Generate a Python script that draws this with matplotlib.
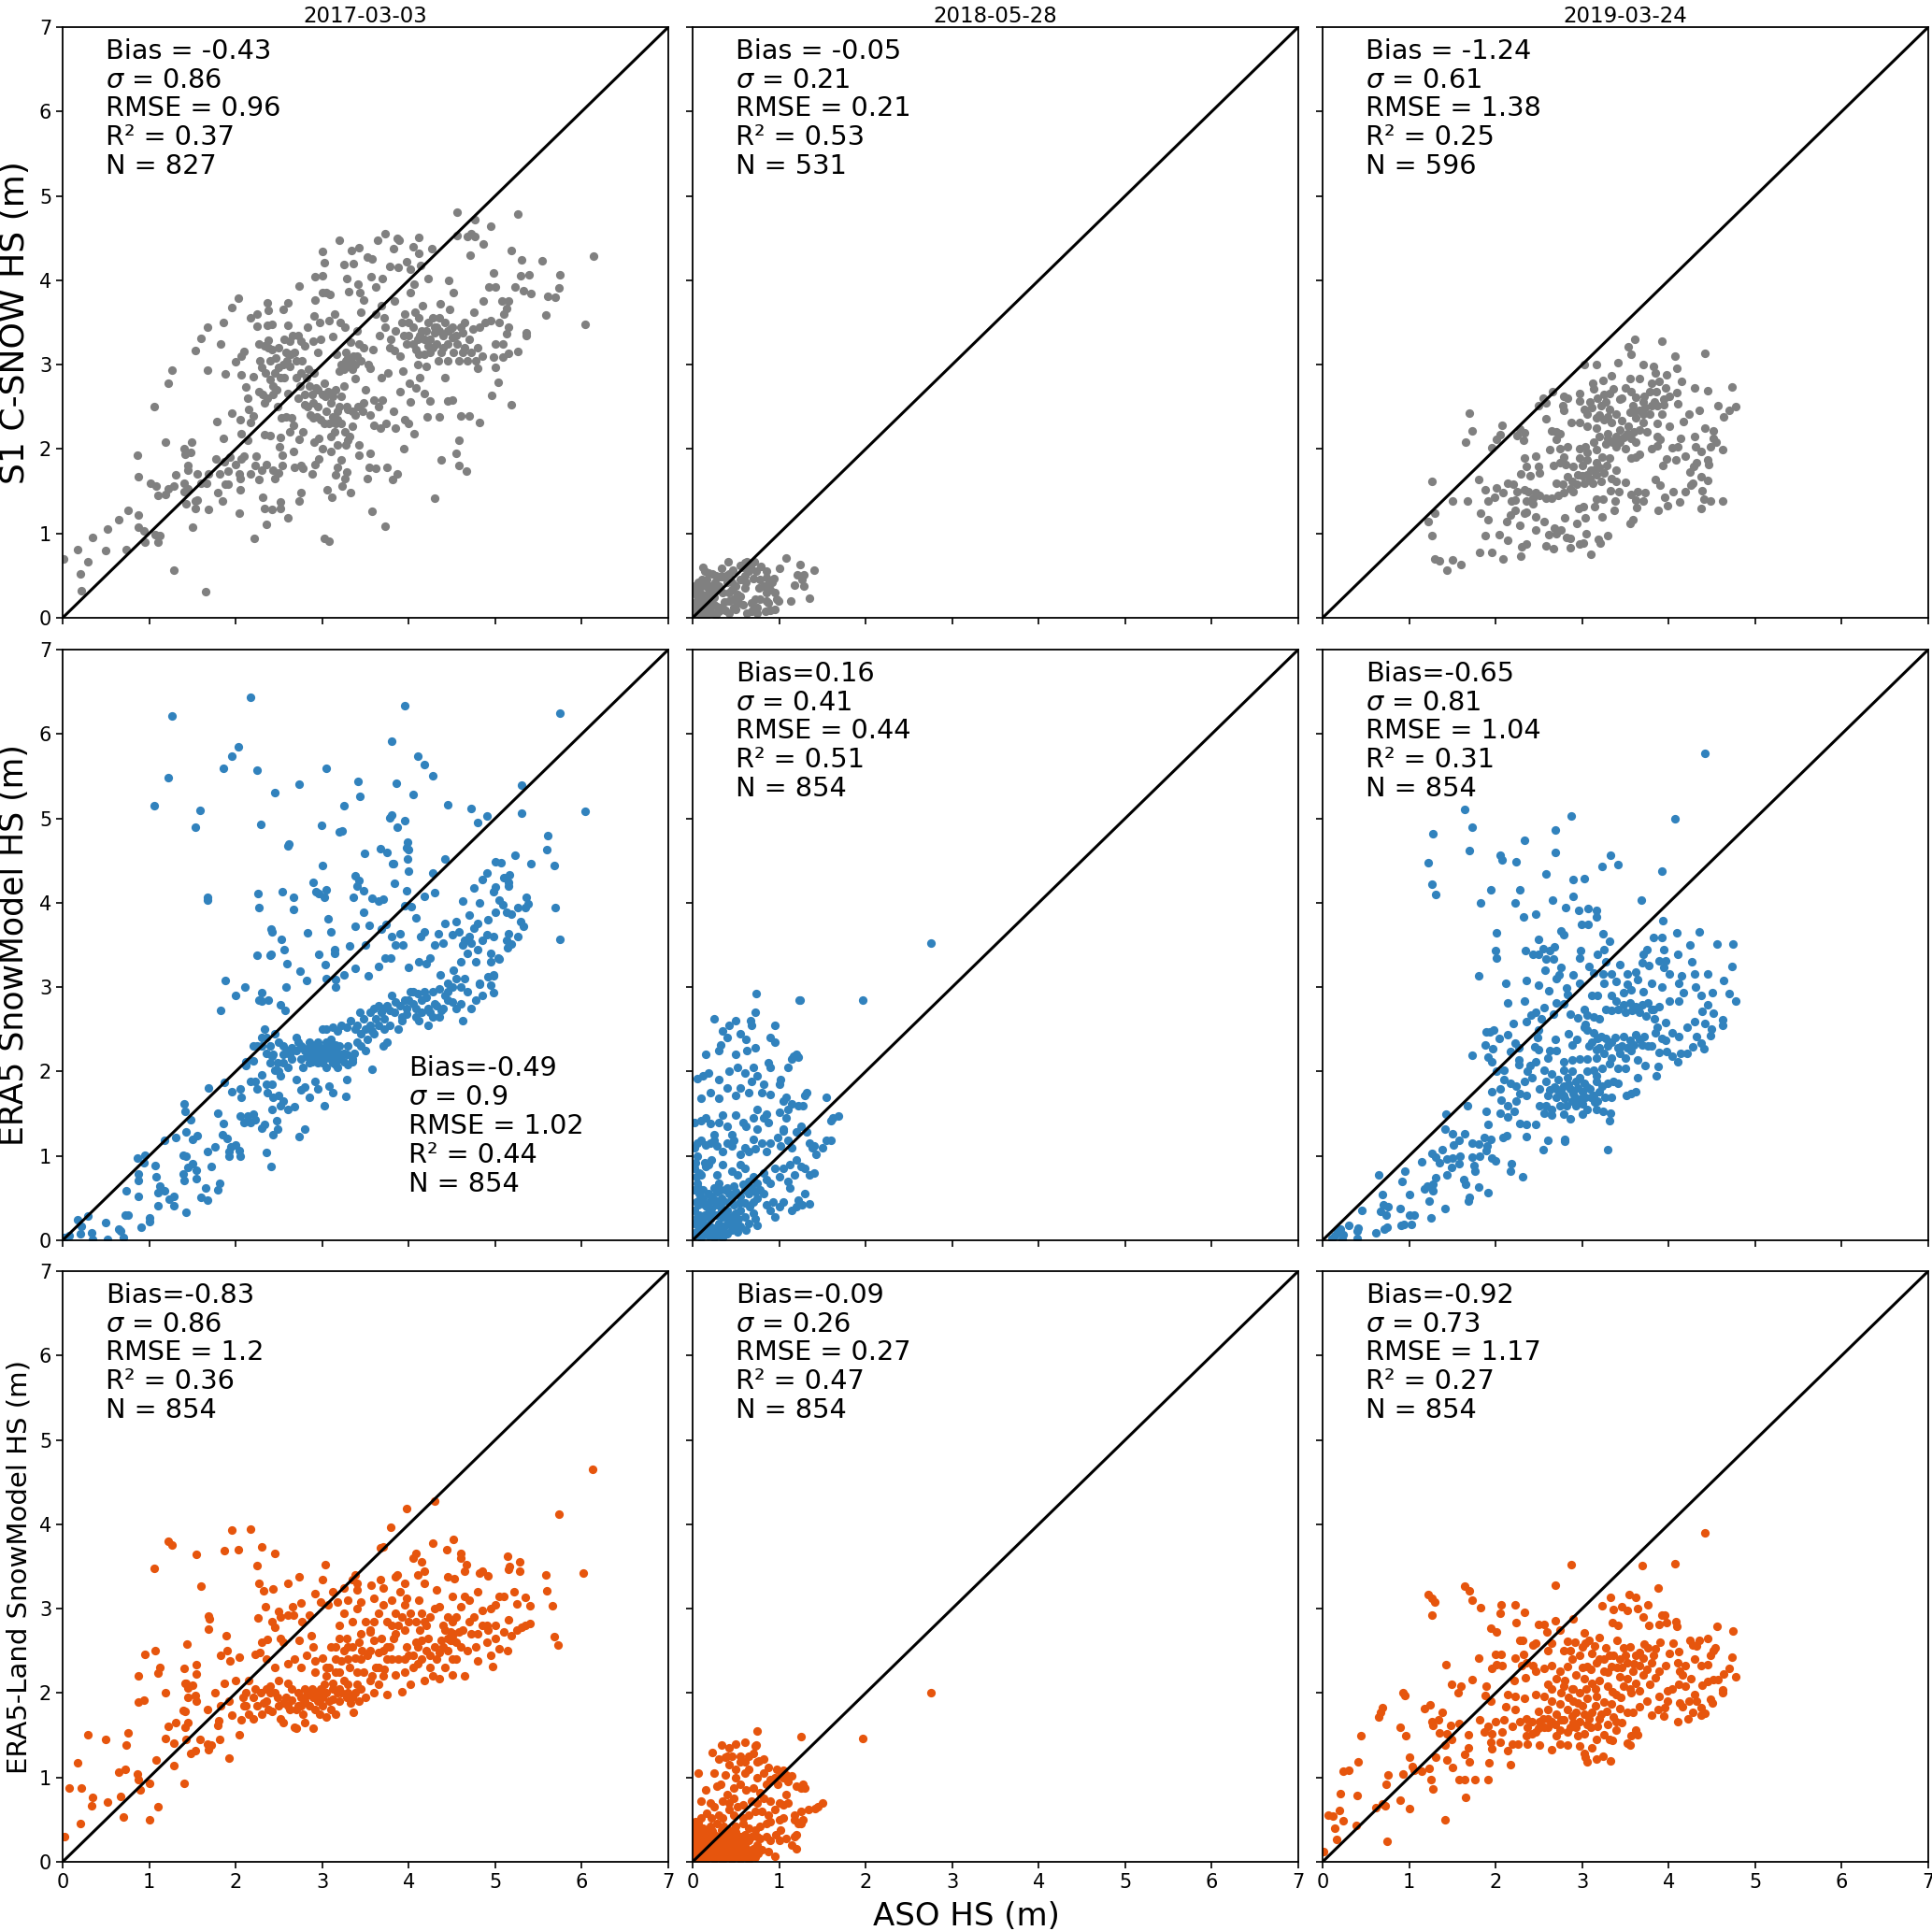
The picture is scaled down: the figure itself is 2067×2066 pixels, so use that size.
# recreate the 3x3 snow depth comparison scatter figure
import matplotlib
matplotlib.use("Agg")
import matplotlib.pyplot as plt

dates = ['2017-03-03', '2018-05-28', '2019-03-24']
row_labels = ['S1 C-SNOW HS (m)', 'ERA5 SnowModel HS (m)', 'ERA5-Land SnowModel HS (m)']
ticks = [0, 1, 2, 3, 4, 5, 6, 7]

# points: (ASO HS, model HS)
s1_2017 = [(0.01,0.70),(0.17,0.81),(0.21,0.52),(0.22,0.32),(0.29,0.66),(0.35,0.95),(0.50,0.80),(0.52,1.05),(0.65,1.16),(0.73,0.81),(0.76,1.27),(0.87,1.07),(0.87,1.22),(0.94,1.03),(0.95,0.90),(1.07,0.99),(1.10,0.90),(1.12,0.97),(1.29,0.57),(1.65,0.31),(1.50,1.07),
(0.86,1.93),(0.88,1.67),(1.02,1.59),(1.08,1.56),(1.10,1.45),(1.19,1.46),(1.22,1.53),(1.29,1.56),(1.31,1.70),(1.19,2.08),(1.06,2.50),(1.22,2.78),(1.26,2.93),(1.40,1.60),(1.40,1.50),(1.45,1.53),(1.43,1.35),(1.45,1.75),(1.45,1.81),(1.40,2.00),(1.41,1.94),(1.48,1.96),(1.49,2.08),(1.53,1.30),(1.53,1.38),(1.56,1.40),(1.56,1.71),(1.60,1.60),(1.66,1.60),(1.68,1.71),(1.69,1.28),(1.53,3.17),(1.60,3.31),(1.67,3.45),(1.67,2.94),
(1.77,1.88),(1.79,1.48),(1.81,1.71),(1.85,1.38),(1.83,3.25),(1.86,3.50),(1.88,2.89),(1.78,2.33),(1.86,2.13),(1.87,1.85),(1.88,1.58),(1.91,1.74),(1.93,1.90),(1.91,1.58),(1.95,2.43),(1.95,3.68),(2.00,1.82),(2.00,3.04),(2.03,3.79),(2.04,1.24),(2.04,1.71),(2.05,1.65),(2.05,1.52),(2.05,2.35),(2.06,2.18),(2.06,1.88),(2.06,3.10),(2.06,2.88),(2.10,1.92),(2.10,3.16),(2.12,2.74),(2.14,2.60),(2.14,2.10),(2.15,2.47),(2.17,1.71),(2.17,3.55),(2.17,2.32),(2.20,2.39),(2.20,2.86),(2.21,0.94),(2.23,1.80),(2.24,1.92),(2.25,3.60),(2.25,3.46),(2.27,1.64),(2.27,3.24),(2.28,3.05),(2.27,2.68),(2.30,2.97),(2.30,1.75),(2.31,2.65),(2.31,1.43),(2.33,3.22),(2.33,2.17),(2.33,2.55),(2.33,1.30),(2.35,1.82),(2.36,1.11),(2.37,2.60),(2.37,3.47),(2.37,3.73),(2.38,3.64),(2.38,3.29),(2.38,3.20),(2.40,2.82),(2.40,2.16),(2.42,3.48),(2.42,3.18),(2.42,1.28),(2.43,2.65),(2.43,1.75),(2.43,2.75),(2.45,1.65),(2.46,3.08),(2.47,2.70),(2.48,2.50),(2.50,2.97),(2.50,1.72),(2.51,2.03),(2.52,2.85),(2.52,2.14),(2.52,1.30),(2.52,1.37),(2.53,2.37),(2.54,1.93),(2.54,1.80),(2.55,3.65),(2.56,2.85),(2.56,3.30),(2.58,2.38),(2.58,3.15),(2.59,3.05),(2.60,3.47),(2.60,1.18),(2.60,3.73),(2.60,2.66),(2.62,2.98),(2.63,2.20),(2.64,3.12),(2.65,2.37),(2.66,3.35),(2.67,2.28),(2.67,1.97),(2.68,3.15),(2.68,1.78),(2.70,3.05),(2.72,3.34),(2.72,2.60),(2.73,1.39),(2.73,2.12),(2.73,3.93),(2.75,3.28),(2.75,1.80),(2.76,1.48),(2.76,2.90),(2.77,3.05),(2.78,2.20),(2.78,1.77),(2.80,2.52),(2.80,3.22),(2.82,2.85),(2.83,2.50),(2.83,3.45),(2.85,2.75),(2.88,1.71),(2.88,2.65),(2.89,3.28),(2.90,2.37),(2.91,3.58),(2.91,2.90),(2.91,2.08),(2.92,1.82),(2.92,4.04),(2.92,3.77),(2.93,2.72),(2.94,2.38),(2.95,3.15),(2.95,2.50),(2.96,2.13),(2.96,1.88),(2.97,3.50),(2.98,3.30),(3.00,4.05),(3.00,2.00),(3.00,3.85),(3.00,4.34),(3.02,4.21),(3.02,2.78),(3.03,2.30),(3.03,0.94),(3.05,3.85),(3.06,1.52),(3.07,2.68),(3.08,0.91),(3.08,3.52),(3.09,3.83),(3.10,2.55),(3.10,2.15),(3.10,1.97),(3.11,1.43),(3.12,3.33),(3.14,3.60),(3.15,2.30),(3.15,1.70),(3.15,2.70),(3.16,3.12),(3.18,2.05),(3.18,1.78),(3.20,2.92),(3.20,4.47),(3.20,2.50),(3.21,3.50),(3.22,1.87),(3.23,1.56),(3.25,2.75),(3.25,4.19),(3.26,1.65),(3.26,3.45),(3.27,3.05),(3.27,2.05),(3.28,1.73),(3.28,4.02),(3.30,2.47),(3.31,3.87),(3.32,2.15),(3.33,3.00),(3.33,3.27),(3.33,1.48),(3.34,4.35),(3.35,2.27),(3.36,3.10),(3.36,4.20),(3.38,2.83),(3.38,2.40),(3.40,3.40),(3.41,3.95),(3.41,2.50),(3.42,4.39),(3.42,2.05),(3.42,1.93),(3.44,3.85),(3.45,3.62),(3.47,2.45),(3.48,3.77),(3.48,3.20),(3.50,2.70),(3.52,1.65),(3.52,4.28),(3.53,3.00),(3.55,1.95),(3.54,1.78),(3.55,2.96),(3.56,4.04),(3.58,4.25),(3.58,1.26),(3.59,3.18),(3.60,2.58),(3.62,3.92),(3.62,3.60),(3.62,1.77),(3.64,4.47),(3.65,2.50),(3.67,2.25),(3.68,3.70),(3.68,2.85),(3.69,2.58),(3.69,4.02),(3.73,1.09),(3.73,4.55),(3.73,3.45),(3.74,2.30),(3.75,1.78),(3.76,2.90),(3.78,4.17),(3.79,3.30),(3.81,1.64),(3.82,4.38),(3.82,2.45),(3.83,3.17),(3.84,3.75),(3.85,2.25),(3.87,4.50),(3.87,1.71),(3.88,4.15),(3.89,4.47),(3.90,2.68),(3.92,3.50),(3.93,2.92),(3.94,2.00),(3.94,3.35),(3.95,2.35),(3.97,4.22),(3.97,3.25),(4.00,2.30),(4.01,2.78),(4.02,2.56),(4.02,3.85),(4.02,4.13),(4.05,4.40),(4.06,3.95),(4.06,2.18),(4.07,3.62),(4.08,2.72),(4.10,3.00),(4.12,4.32),(4.12,4.51),(4.13,3.35),(4.13,2.85),(4.14,4.18),(4.16,3.70),(4.18,2.66),(4.18,3.12),(4.20,2.98),(4.21,2.38),(4.22,4.02),(4.25,2.57),(4.27,4.38),(4.28,3.55),(4.30,1.42),(4.30,3.45),(4.32,3.25),(4.34,3.05),(4.35,2.38),(4.36,3.72),(4.37,1.87),(4.40,3.35),(4.42,2.85),(4.45,2.57),(4.46,4.00),(4.47,3.65),(4.50,2.58),(4.52,3.85),(4.55,1.95),(4.58,1.81),(4.58,2.10),(4.60,2.39),(4.62,3.38),(4.65,3.20),(4.67,1.74),(4.68,4.52),(4.70,2.39),(4.72,4.55),(4.74,3.42),(4.78,3.05),(4.80,2.96),(4.82,2.31),(4.86,3.75),(4.88,3.50),
(5.19,4.35),(5.26,4.78),(5.30,4.24),(5.29,4.05),(5.39,4.07),(5.23,3.92),(5.33,3.88),(5.41,3.84),(5.54,4.23),(5.61,3.81),(5.59,3.59),(5.69,3.80),(5.74,3.91),(5.75,4.07),(6.04,3.48),(6.14,4.29),(5.18,2.53),(5.36,3.38),(5.36,3.34),(5.26,3.16),(5.15,3.14),(5.09,3.09),(5.00,2.97),(5.03,2.79),(4.96,2.64),(5.15,3.76),(5.08,3.76),(5.13,3.67),(5.10,3.60),(5.05,3.50),(5.15,3.45),(5.13,3.37),(5.09,3.24),(5.00,3.24),(4.98,3.09),(4.95,3.52),(4.98,4.09),(4.93,3.92),(5.00,3.92),(4.95,4.64),(4.86,4.43),(4.76,4.52),(4.76,4.72),(4.56,4.81),(4.56,4.53),(4.71,4.30),
(4.60,3.45),(4.55,3.35),(4.50,3.32),(4.48,3.42),(4.42,3.50),(4.35,3.40),(4.30,3.38),(4.25,3.30),(4.22,3.50),(4.10,3.30),(4.05,3.45),(4.00,3.50),(3.95,3.60),(3.40,3.10),(3.33,3.05),(3.30,2.98),(3.27,3.15),(3.22,3.00),(4.65,3.50),(4.70,3.30),(4.75,3.62),(4.80,3.20),(4.85,3.10),(4.58,3.05),(4.52,3.15),(4.45,3.05),(4.38,3.15),(4.28,3.20),(4.22,3.22),(4.15,3.40),(4.12,3.55),(4.08,3.18),(3.45,3.05),(3.42,3.25),(3.38,3.00),(3.35,2.95),(3.30,3.08),(3.25,2.95),(3.28,2.50),(3.22,2.62),(3.18,2.45),(3.12,2.38),(3.05,2.45),(3.00,2.65),(2.95,2.70),(2.98,2.35),
(2.34,2.90),(2.40,3.05),(2.45,2.90),(2.50,3.20),(2.55,3.00),(2.62,3.28),(2.70,2.85),(2.74,2.75),(2.80,2.65),(2.84,2.95),(2.86,2.40),(2.90,2.55),(3.04,2.62),(3.12,2.62),(3.18,2.35),(3.08,2.30),(3.14,2.20),(3.22,2.30),(3.26,2.20),(3.30,2.10),(3.35,2.45),(3.48,2.55),(3.55,2.40),(3.60,2.28),(3.66,3.35),(3.72,3.55),(3.78,3.20),(3.85,3.40),(3.90,3.10),(4.00,3.35),(4.05,3.25),(4.12,3.12),(4.18,3.30),(4.25,3.15),(4.32,3.45),(4.40,3.20),(4.45,3.40),(4.50,3.45),(4.56,3.25),(4.62,3.15),(4.68,3.05),(4.72,3.15),(4.82,3.45),(4.20,3.40),(4.35,3.55),(4.45,3.25)]

s1_2018 = [(0.02,0.05),(0.06,0.12),(0.10,0.02),(0.13,0.08),(0.16,0.03),(0.19,0.10),(0.23,0.05),(0.27,0.03),(0.30,0.08),(0.02,0.18),(0.05,0.25),(0.08,0.20),(0.12,0.17),(0.17,0.14),(0.22,0.15),(0.02,0.30),(0.05,0.35),(0.09,0.30),(0.13,0.27),(0.18,0.30),(0.22,0.28),(0.25,0.33),(0.02,0.38),(0.06,0.42),(0.10,0.38),(0.15,0.38),(0.08,0.10),(0.14,0.22),(0.20,0.22),(0.01,0.11),(0.11,0.45),(0.25,0.15),(0.28,0.13),(0.04,0.15),(0.10,0.13),(0.15,0.09),(0.25,0.24),(0.04,0.07),(0.20,0.38),(0.28,0.38),
(0.12,0.60),(0.14,0.55),(0.18,0.53),(0.23,0.52),(0.27,0.50),(0.31,0.49),(0.35,0.49),(0.39,0.50),(0.42,0.52),(0.46,0.56),(0.33,0.59),(0.41,0.66),(0.60,0.65),(0.63,0.67),(0.71,0.67),(0.55,0.62),(0.67,0.60),(0.79,0.61),(0.60,0.50),(0.55,0.45),(0.62,0.42),(0.70,0.47),(0.78,0.45),(0.85,0.48),(0.87,0.40),(0.82,0.38),(0.77,0.35),(0.85,0.30),(0.90,0.33),(0.95,0.30),(0.60,0.35),(0.50,0.38),(0.42,0.30),(0.35,0.30),(0.45,0.33),(0.52,0.28),(0.48,0.22),(0.42,0.20),(0.37,0.19),(0.55,0.25),(0.53,0.18),(0.47,0.12),(0.50,0.10),(0.58,0.15),(0.70,0.10),(0.72,0.22),(0.78,0.22),(0.75,0.12),(0.68,0.18),(0.85,0.20),(0.88,0.18),(0.90,0.09),(0.84,0.08),(0.95,0.10),(0.97,0.22),(0.99,0.20),(1.08,0.71),(1.24,0.63),(1.40,0.56),(1.00,0.59),(1.21,0.51),(1.29,0.51),(0.94,0.47),(1.18,0.39),(1.29,0.38),(1.13,0.20),(1.35,0.23),(1.26,0.45),(0.30,0.38),(0.65,0.55),(0.73,0.55),(0.58,0.60),(0.45,0.42),(0.40,0.42),(0.38,0.09),(0.42,0.06),(0.07,0.28),(0.16,0.45),(0.26,0.42),(0.33,0.12),(0.63,0.05),(0.68,0.08),(0.75,0.05),(0.85,0.55),(0.92,0.42)]

s1_2019 = [(1.22,1.14),(1.26,1.62),(1.30,1.24),(1.26,0.98),(1.30,0.70),(1.35,0.68),(1.44,0.57),(1.50,0.69),(1.60,0.63),(1.50,1.39),(1.67,1.38),(1.65,2.08),(1.70,2.43),(1.73,2.21),(1.80,1.64),(1.83,1.24),(1.81,0.78),(1.88,1.52),(1.91,1.16),(1.88,0.98),(1.91,1.38),(1.95,0.78),(1.95,2.02),(1.99,1.43),(2.01,2.12),(2.05,2.17),(2.07,2.28),(2.01,1.54),(2.04,0.99),(2.08,1.48),(2.09,0.70),(2.13,1.14),(2.14,0.92),(2.14,1.59),(2.20,1.58),(2.17,1.22),(2.18,1.38),(2.22,1.27),(2.23,1.40),(2.25,1.50),(2.25,2.16),(2.28,2.24),(2.33,2.19),(2.32,2.10),(2.28,1.10),(2.29,0.73),(2.30,0.84),(2.35,0.88),(2.29,1.71),(2.33,1.89),(2.40,1.68),(2.36,1.79),(2.33,1.24),(2.36,1.25),(2.35,1.38),(2.33,1.52),(2.38,1.49),(2.43,1.35),(2.43,1.42),(2.46,1.20),(2.46,1.04),(2.49,2.51),(2.55,2.60),(2.58,2.55),(2.58,2.36),(2.66,2.68),(2.46,1.92),(2.49,1.79),(2.51,1.72),(2.56,1.14),(2.58,0.85),(2.61,0.99),(2.67,0.82),(2.68,1.06),(2.70,1.00),(2.76,1.04),(2.80,1.19),(2.82,0.95),(2.86,0.94),(2.86,0.83),(2.94,1.12),(2.97,0.87),(3.01,0.89),(3.05,1.00),(3.10,0.75),(3.04,1.19),(2.96,1.30),(3.01,1.32),(3.14,1.32),(3.23,1.20),(3.19,0.93),(3.21,0.89),(3.30,0.98),(3.37,1.27),(3.38,1.38),(3.24,1.41),(3.17,1.41),(3.33,1.51),(3.42,1.49),(3.56,1.46),(3.62,1.40),(3.63,1.31),(3.64,1.49),(3.71,1.38),(3.73,1.48),(3.55,1.12),(3.59,1.16),(3.88,1.27),(3.99,1.33),(3.95,1.43),(3.90,1.57),(3.85,1.64),(4.05,1.50),(4.19,1.50),(4.13,1.37),(4.26,1.57),(4.28,1.60),(4.39,1.51),(4.41,1.41),(4.38,1.30),(4.48,1.38),(4.62,1.38),(4.45,1.63),(4.38,1.67),(4.24,1.73),(4.29,1.79),(4.32,1.84),(4.46,1.82),(4.45,1.87),(4.62,1.99),(4.48,2.03),(4.52,2.13),(4.55,2.08),(4.52,2.22),(4.38,1.97),(4.30,2.15),(4.31,2.03),(4.19,1.92),(4.08,1.87),(3.98,1.88),(3.93,1.81),(4.04,2.02),(4.14,2.13),(4.10,2.03),(3.87,2.04),(3.80,2.00),(4.42,2.25),(4.17,2.33),(4.23,2.41),(4.35,2.46),(4.63,2.38),(4.70,2.46),(4.57,2.51),(4.73,2.74),(4.77,2.50),(4.30,2.73),(4.45,2.69),(4.42,3.14),(4.07,3.10),(3.92,3.28),(3.61,3.30),(3.53,3.21),(3.57,3.12),(3.41,3.02),(3.16,3.00),(3.02,3.00),(3.70,3.00),(3.82,2.98),(4.09,2.96),(4.15,2.80),(3.98,2.88),(3.85,2.90),(4.09,2.67),(4.10,2.54),(2.79,2.63),(2.83,2.60),(2.78,2.51),(2.79,2.46),(2.97,2.66),(2.97,2.57),(2.65,2.22),(2.70,2.20),(2.74,2.18),(2.87,2.31),(2.97,2.32),(2.63,1.99),(2.70,2.11),(2.74,2.01),(2.83,2.03),(2.67,1.81),(2.79,1.91),(2.74,1.84),
(2.46,1.48),(2.51,1.45),(2.58,1.42),(2.65,1.42),(2.72,1.45),(2.79,1.48),(2.86,1.53),(2.94,1.58),(3.02,1.60),(3.09,1.65),(3.16,1.70),(3.22,1.62),(3.25,1.72),(3.13,1.75),(3.06,1.70),(2.95,1.70),(2.83,1.67),(2.70,1.60),(2.81,1.82),(2.90,1.79),(2.97,1.89),(3.06,1.87),(3.16,1.84),(3.23,1.91),(3.32,1.89),(3.39,1.75),(3.39,1.62),(3.50,1.61),(3.34,1.65),
(3.06,2.27),(3.16,2.37),(3.06,2.42),(3.02,2.47),(3.11,2.49),(3.09,2.56),(3.22,2.51),(3.27,2.56),(3.32,2.47),(3.39,2.42),(3.25,2.35),(3.34,2.32),(3.43,2.23),(3.20,2.15),(3.29,2.13),(3.39,2.15),(3.48,2.14),(3.57,2.13),(3.13,2.08),(3.04,2.03),(2.97,2.01),(3.06,1.96),(3.16,1.99),(3.27,2.06),(3.39,2.03),(3.50,2.01),(3.57,1.89),(3.62,1.91),(3.66,1.94),(3.53,2.27),(3.62,2.37),(3.55,2.44),(3.59,2.51),(3.66,2.46),(3.73,2.49),(3.80,2.51),(3.87,2.51),(3.94,2.59),(4.01,2.63),(3.92,2.42),(3.87,2.30),(3.71,2.32),(3.75,2.20),(3.87,2.15),(3.90,2.11),(4.01,2.27),(3.66,2.23),(3.62,2.08),(3.57,2.68),(3.62,2.61),(3.78,2.68),(3.80,2.78),(3.89,2.80),(3.66,2.83),(3.55,2.84),(3.34,2.87),(3.24,2.81),(3.12,2.78),(3.13,2.71),(3.25,2.65),(3.36,2.71),(3.43,2.59),(3.50,2.73),
(3.30,2.18),(3.35,2.08),(3.44,2.08),(3.52,2.18),(3.60,2.20),(3.20,2.40),(3.30,2.38),(3.46,2.34),(3.60,2.44),(3.70,2.42),(3.78,2.42),(3.84,2.56),(3.94,2.52),(3.70,2.56),(3.46,2.60),(3.32,2.66),(3.18,2.60),(3.16,2.25),(3.72,2.62),(3.86,2.68),(3.96,2.72),(2.90,1.50),(3.00,1.68),(3.10,1.75),(3.20,1.78),(3.28,1.80),(3.12,1.60),(3.00,1.80),(2.88,1.62),(2.78,1.58)]

era5_2017 = [(0.02,0.03),(0.08,0.05),(0.17,0.24),(0.22,0.17),(0.21,0.08),(0.29,0.29),(0.33,0.09),(0.35,0.01),(0.50,0.21),(0.52,0.01),(0.65,0.13),(0.67,0.11),(0.70,0.03),(0.72,0.30),(0.76,0.30),(0.73,0.59),(0.87,0.52),(0.87,0.71),(0.88,0.79),(0.86,0.97),(0.94,0.92),(0.95,1.01),(0.91,0.15),(1.00,0.22),(1.01,0.27),(1.07,0.89),(1.08,0.75),(1.10,0.57),(1.10,0.41),(1.12,0.64),(1.18,0.59),(1.29,0.41),(1.29,0.52),(1.23,0.49),(1.18,1.19),(1.31,1.22),(1.39,0.79),(1.40,0.71),(1.39,1.01),(1.40,1.62),(1.41,1.53),(1.43,0.33),(1.43,1.00),(1.43,1.28),(1.45,0.86),(1.48,1.43),(1.50,0.91),(1.50,1.20),(1.54,0.83),(1.55,0.73),(1.56,1.24),(1.60,0.51),(1.65,0.62),(1.67,0.48),(1.67,1.05),(1.69,1.81),(1.72,0.87),(1.76,1.11),(1.79,1.51),(1.79,0.60),(1.81,0.68),(1.85,1.25),(1.86,1.39),(1.87,1.87),(1.90,1.21),(1.92,1.00),(1.92,1.05),(1.94,1.11),(2.00,1.13),(2.04,1.06),(2.05,1.00),(1.96,1.76),(2.05,1.79),(2.06,1.70),(2.05,1.47),(2.10,1.40),(2.14,1.47),(2.17,1.40),(2.20,1.50),(2.23,1.43),(2.30,1.33),(2.33,1.37),(2.36,1.04),(2.41,0.87),(2.43,1.25),(2.47,1.42),(2.48,1.32),(2.12,2.12),(2.12,2.07),(2.20,2.13),(2.17,1.88),(2.22,1.88),(2.25,1.79),(2.30,1.96),(2.35,1.85),(2.37,1.75),(2.42,1.85),(2.42,1.55),(2.43,1.70),(2.50,1.72),(2.52,1.60),(2.52,1.95),(2.55,1.65),(2.60,1.55),(2.68,1.58),(2.73,1.23),(2.80,1.32),(2.70,1.90),(2.75,1.78),(2.80,1.82),(2.85,1.70),(2.92,1.88),(2.95,1.79),(3.02,1.60),(3.08,1.83),(3.12,1.75),(3.27,1.71),(3.28,1.90),(3.58,2.03),(2.27,2.85),(2.30,2.93),(2.33,2.50),(2.38,2.85),(2.43,2.20),(2.48,2.10),(2.55,2.20),(2.60,2.25),(2.35,2.40),(2.30,2.30),(2.40,2.30),(2.45,2.45),(2.50,2.35),(2.55,2.30),(2.65,2.15),(2.70,2.40),(2.75,2.15),(2.78,2.05),(2.85,2.10),(2.90,2.15),(2.95,2.22),(3.00,2.20),(3.05,2.25),(3.10,2.15),(3.15,2.08),(3.20,2.15),(3.25,2.22),(3.30,2.30),(2.85,2.35),(2.90,2.30),(2.95,2.35),(3.00,2.10),(3.05,2.35),(3.10,2.30),(3.15,2.25),(3.20,2.30),(2.92,2.25),(2.97,2.15),(3.02,2.28),(2.88,2.22),(3.08,2.22),(3.12,2.20),(3.18,2.18),(2.80,2.25),(2.75,2.30),(2.70,2.25),(3.35,2.15),(3.37,2.22),(3.45,2.30),(3.50,2.25),(3.40,2.35),(3.35,2.12),(3.00,2.50),(3.05,2.50),(3.12,2.52),(3.18,2.48),(3.22,2.55),(3.28,2.52),(3.33,2.60),(3.38,2.50),(3.43,2.70),(3.48,2.62),(3.50,2.50),(3.55,2.55),(3.58,2.48),(3.65,2.55),(3.70,2.30),(3.72,2.50),(3.75,2.35),(3.60,2.75),(3.65,2.78),(3.70,2.75),(3.75,2.78),(3.78,2.55),(3.83,2.70),(3.88,2.50),(3.92,2.65),(3.95,2.85),(3.98,2.75),(4.02,2.95),(4.05,2.80),(4.08,2.65),(4.10,2.92),(4.15,2.70),(4.20,2.88),(4.22,2.55),(4.25,2.70),(4.28,2.95),(4.30,2.80),(4.35,2.65),(4.38,2.72),(4.42,2.90),(4.45,2.85),(4.50,2.82),(4.55,2.75),(4.60,2.80),(4.62,2.60),(4.68,2.95),(4.72,2.75),(4.78,2.85),(4.82,3.05),(4.85,2.90),(4.92,3.12),(4.95,3.02),(4.98,3.13),(2.20,2.30),(1.83,2.72),(1.88,3.08),(2.00,2.90),(2.11,3.00),(2.30,2.83),(2.52,2.79),(2.57,2.73),(2.58,3.00),(2.53,3.57),(2.56,3.44),(2.59,3.28),(2.40,3.38),(2.41,3.39),(2.25,3.38),(2.26,4.11),(2.27,3.94),(2.41,3.69),(2.42,3.66),(2.54,4.13),(2.67,4.06),(2.67,3.92),(2.74,3.19),(2.82,3.08),(2.83,3.64),(2.89,4.24),(2.93,4.13),(2.96,4.11),(2.96,3.39),(3.00,4.44),(3.03,4.07),(3.04,3.27),(3.05,3.10),(3.05,4.15),(3.07,3.81),(3.10,3.66),(3.14,3.44),(3.14,3.40),(3.15,3.09),(3.15,3.00),(3.25,3.15),(3.32,3.49),(3.38,4.32),(3.36,4.07),(3.38,3.22),(3.38,3.72),(3.40,4.20),(3.42,4.26),(3.48,4.14),(3.48,3.89),(3.50,3.50),(3.53,3.13),(3.54,3.73),(3.58,4.05),(3.65,4.02),(3.70,4.04),(3.68,3.69),(3.74,3.74),(3.65,3.24),(3.73,3.34),(3.79,3.34),(3.80,3.60),(3.81,4.46),(3.84,4.23),(3.85,3.50),(3.90,3.63),(3.93,3.50),(3.95,3.97),(3.97,4.14),(4.00,4.63),(4.00,4.37),(4.00,3.23),(4.03,3.95),(4.08,3.82),(4.12,3.30),(4.14,3.60),(4.18,3.65),(4.18,4.08),(4.20,3.28),(4.25,3.35),(4.28,4.35),(4.30,4.12),(4.30,3.50),(4.34,3.63),(4.36,3.15),(4.40,3.52),(4.42,3.75),(4.45,3.05),(4.50,3.62),(4.52,3.20),(4.55,3.78),(4.58,3.65),(4.60,3.00),(4.62,4.02),(4.65,3.10),(4.68,3.40),(4.70,3.85),(4.72,3.52),(4.75,4.18),(4.78,3.30),(4.80,3.75),(4.82,4.00),(4.85,4.28),(4.90,4.35),(4.92,3.80),(4.95,3.30),(4.98,3.60),
(1.06,5.15),(1.22,5.48),(1.26,6.21),(1.53,4.90),(1.59,5.09),(1.67,4.03),(1.67,4.06),(1.86,5.59),(1.95,5.74),(2.03,5.85),(2.17,6.43),(2.25,5.57),(2.29,4.93),(2.45,5.30),(2.60,4.67),(2.61,4.70),(2.73,5.41),(2.99,4.92),(3.05,5.59),(3.20,4.84),(3.23,4.85),(3.25,5.15),(3.41,5.44),(3.43,5.26),(3.49,4.59),(3.67,4.64),(3.75,4.60),(3.78,5.01),(3.80,5.04),(3.80,5.92),(3.82,4.46),(3.86,5.42),(3.87,4.90),(3.95,6.33),(3.95,4.97),(3.99,4.72),(3.99,4.52),(3.98,4.65),(4.05,5.28),(4.11,5.74),(4.18,5.64),(4.28,5.50),(4.42,4.52),(4.45,5.16),(4.72,5.12),(4.80,4.95),(4.90,5.03),(5.30,5.39),(5.30,5.06),
(5.00,4.49),(5.07,4.47),(5.23,4.56),(5.16,4.33),(5.10,4.30),(5.15,4.24),(5.15,4.20),(5.00,4.19),(4.98,4.13),(5.05,4.03),(5.09,3.98),(5.36,4.06),(5.38,3.99),(5.26,3.94),(5.35,3.94),(5.13,3.89),(5.18,3.86),(5.00,3.89),(5.29,3.78),(5.33,3.72),(5.15,3.63),(5.26,3.60),(5.18,3.51),(5.13,3.56),(5.14,3.47),(5.03,3.35),(5.05,3.33),(4.98,3.15),(4.98,2.94),(4.82,3.03),(5.41,4.46),(5.60,4.63),(5.61,4.80),(5.68,4.44),(5.69,3.94),(5.75,3.57),(5.75,6.25),(6.04,5.08),
(2.72,2.35),(2.78,2.28),(2.82,2.18),(2.85,2.28),(2.88,2.12),(2.92,2.32),(2.95,2.10),(2.98,2.28),(3.02,2.15),(3.05,2.05),(3.08,2.18),(3.10,2.38),(3.12,2.10),(3.15,2.32),(3.18,2.05),(3.22,2.20),(3.25,2.12),(3.28,2.20),(3.30,2.08),(2.60,2.05),(2.62,2.20),(2.65,2.28),(2.55,2.10),(2.50,2.00),(2.45,2.02),(2.40,2.10),(2.35,2.22),(2.30,2.40),(2.25,2.30),(2.42,2.18),(3.40,2.55),(3.45,2.45),(3.52,2.38),(3.55,2.70),(3.60,2.45),(3.62,2.62),(3.68,2.70),(3.72,2.62),(3.78,2.72),(3.80,2.90),(3.85,2.82),(3.90,2.78),(3.92,2.60),(3.98,2.68),(4.00,2.85),(4.05,2.95),(4.08,2.75),(4.12,2.60),(4.15,2.85),(4.18,2.95),(4.22,2.75),(4.28,2.65),(4.32,2.78),(4.35,2.98),(4.40,2.75),(4.45,2.95),(4.50,3.00),(4.55,3.10),(4.60,3.30),(4.62,3.50),(4.65,3.55),(4.70,3.60),(4.75,3.70),(4.80,3.45),(4.85,3.55),(4.90,3.62),(4.95,3.40)]

era5_2018 = [(0.02,0.05),(0.06,0.10),(0.10,0.03),(0.14,0.13),(0.18,0.05),(0.22,0.15),(0.25,0.03),(0.30,0.10),(0.35,0.03),(0.02,0.20),(0.05,0.28),(0.10,0.22),(0.14,0.30),(0.20,0.25),(0.25,0.30),(0.30,0.20),(0.35,0.28),(0.40,0.20),(0.45,0.12),(0.50,0.22),(0.55,0.17),(0.62,0.12),(0.02,0.35),(0.06,0.42),(0.10,0.45),(0.16,0.40),(0.22,0.38),(0.28,0.42),(0.34,0.38),(0.40,0.35),(0.45,0.28),(0.50,0.32),(0.55,0.35),(0.60,0.28),(0.65,0.20),(0.70,0.32),(0.72,0.25),(0.74,0.18),(0.02,0.60),(0.05,0.68),(0.08,0.55),(0.12,0.50),(0.18,0.55),(0.22,0.52),(0.28,0.58),(0.34,0.50),(0.38,0.60),(0.42,0.55),(0.45,0.50),(0.50,0.58),(0.55,0.52),(0.60,0.60),(0.65,0.55),(0.70,0.45),(0.72,0.58),(0.75,0.50),(0.78,0.60),(0.82,0.55),(0.85,0.42),(0.90,0.35),(0.95,0.28),(0.93,0.45),(1.00,0.40),(1.05,0.45),(1.12,0.62),(1.15,0.35),(1.20,0.40),(1.22,0.48),(1.26,0.42),(1.30,0.55),(1.35,0.43),(0.02,0.85),(0.08,0.80),(0.14,0.92),(0.18,0.90),(0.05,1.00),(0.15,0.88),(0.22,0.95),(0.28,0.78),(0.35,0.90),(0.45,0.82),(0.52,0.78),(0.55,0.90),(0.60,0.85),(0.65,0.70),(0.70,0.75),(0.75,0.68),(0.82,0.80),(0.85,0.72),(0.90,0.68),(0.95,0.85),(1.00,0.75),(1.05,0.85),(1.10,0.70),(1.12,0.90),(1.18,0.78),(1.20,0.95),(1.25,0.88),(1.30,0.85),(1.35,0.78),(1.40,0.80),(1.43,1.02),(0.02,1.10),(0.05,1.15),(0.10,1.18),(0.15,1.13),(0.20,1.15),(0.25,1.18),(0.28,1.12),(0.35,1.05),(0.40,1.15),(0.45,1.12),(0.48,1.18),(0.55,1.02),(0.60,1.10),(0.65,1.05),(0.70,1.20),(0.72,1.08),(0.80,1.15),(0.85,1.05),(0.90,1.15),(0.98,1.22),(1.02,1.12),(1.05,1.30),(1.10,1.18),(1.15,1.10),(1.20,1.28),(1.25,1.35),(1.32,1.28),(1.35,1.15),(1.38,1.10),(1.40,1.12),(1.50,1.10),(1.55,1.18),(1.60,1.18),(1.62,1.45),(1.68,1.47),(1.60,1.42),(1.55,1.70),(0.02,1.40),(0.10,1.42),(0.15,1.45),(0.20,1.38),(0.25,1.25),(0.30,1.40),(0.35,1.48),(0.40,1.35),(0.45,1.25),(0.50,1.48),(0.58,1.40),(0.62,1.35),(0.70,1.45),(0.75,1.32),(0.82,1.45),(0.85,1.50),(0.88,1.40),(1.00,1.52),(1.05,1.65),(1.15,1.62),(1.22,1.60),(1.28,1.60),(1.30,1.72),(1.32,1.75),(1.05,1.32),(1.08,1.45),(1.10,1.55),(0.10,1.68),(0.20,1.75),(0.30,1.68),(0.40,1.80),(0.50,1.72),(0.55,1.80),(0.65,1.75),(0.75,1.55),(0.80,1.75),(0.90,1.73),(1.00,1.85),(1.08,1.70),(0.12,1.95),(0.05,1.92),(0.18,1.98),(0.30,1.90),(0.42,2.00),(0.52,2.05),(0.60,1.98),(0.68,1.88),(0.75,1.95),(0.82,1.85),(0.90,2.05),(1.02,1.90),(1.10,2.05),(1.15,2.15),(1.17,2.18),(0.15,2.20),(0.32,2.32),(0.30,2.25),(0.40,2.40),(0.50,2.20),(0.63,2.25),(0.70,2.05),(0.55,2.45),(0.72,2.28),(0.90,2.40),(0.95,2.55),(0.95,2.35),(0.68,2.55),(0.62,2.38),(0.42,2.55),(0.35,2.48),(0.25,2.62),(0.50,2.60),(0.67,2.60),(0.73,2.92),(0.72,2.70),(1.24,2.85),(1.23,2.85),(1.97,2.85),(2.75,3.52),(0.88,2.10),(1.22,2.17),(1.20,2.20),
(0.04,0.10),(0.08,0.15),(0.12,0.08),(0.16,0.18),(0.20,0.12),(0.24,0.08),(0.28,0.15),(0.32,0.06),(0.36,0.14),(0.40,0.08),(0.44,0.18),(0.48,0.14),(0.52,0.10),(0.04,0.22),(0.08,0.30),(0.12,0.25),(0.18,0.32),(0.22,0.28),(0.28,0.30),(0.32,0.32),(0.38,0.30),(0.42,0.26),(0.48,0.30),(0.53,0.26),(0.04,0.45),(0.08,0.48),(0.14,0.42),(0.20,0.46),(0.26,0.48),(0.30,0.44),(0.36,0.46),(0.42,0.45),(0.48,0.42),(0.54,0.44),(0.60,0.44),(0.66,0.40),(0.06,0.62),(0.12,0.60),(0.25,0.62),(0.32,0.60),(0.40,0.62),(0.48,0.64),(0.58,0.66),(0.68,0.62),(0.04,0.75),(0.10,0.78),(0.03,0.92),(0.30,0.68)]

era5_2019 = [(4.42,5.77),(4.07,5.00),(2.87,5.03),(1.64,5.11),(1.73,4.90),(1.27,4.82),(2.69,4.86),(1.70,4.62),(2.33,4.74),(2.69,4.60),(2.05,4.56),(2.07,4.51),(2.24,4.49),(1.22,4.47),(3.33,4.56),(3.23,4.43),(3.41,4.45),(3.92,4.37),(2.58,4.34),(3.02,4.29),(2.90,4.27),(1.26,4.22),(1.31,4.10),(1.94,4.15),(2.28,4.15),(2.66,4.03),(2.90,4.08),(3.68,4.03),(1.83,4.00),(2.22,4.00),(2.81,3.94),(2.96,3.91),(3.07,3.93),(3.16,3.91),(3.17,3.83),(2.32,3.83),(2.46,3.87),(2.99,3.74),(3.07,3.74),(3.93,3.79),(2.75,3.67),(2.79,3.62),(3.24,3.63),(2.01,3.64),(2.49,3.57),(3.32,3.54),(3.82,3.59),(3.92,3.59),(4.09,3.64),(4.35,3.65),(4.56,3.51),(4.74,3.51),(4.25,3.50),(2.00,3.43),(2.01,3.34),(2.55,3.46),(2.68,3.48),(2.63,3.43),(2.34,3.43),(2.43,3.39),(2.49,3.39),(2.98,3.43),(3.25,3.44),(3.18,3.39),(3.75,3.44),(3.70,3.39),(3.94,3.44),(4.10,3.39),(4.27,3.30),(4.73,3.25),(4.45,3.16),(4.30,3.16),(1.80,3.14),(2.58,3.33),(2.67,3.33),(2.76,3.23),(2.57,3.20),(2.73,3.15),(2.89,3.15),(2.97,3.35),(3.08,3.25),(3.27,3.30),(3.24,3.16),(3.13,3.17),(3.34,3.16),(3.44,3.27),(3.69,3.29),(3.77,3.26),(3.89,3.31),(3.96,3.31),(3.94,3.23),(4.01,3.16),(4.15,3.13),(4.12,3.05),(2.12,3.05),(2.36,3.08),(2.49,3.02),(2.61,2.96),(2.70,3.10),(2.82,2.99),(2.97,3.05),(3.25,3.05),(3.39,3.07),(3.52,3.16),(3.62,3.18),(3.64,3.09),(3.52,3.04),(3.48,2.93),(3.57,2.97),(3.70,2.95),(3.80,3.05),(3.92,3.00),(4.31,3.00),(4.17,2.94),(4.38,2.90),(4.51,2.93),(4.63,3.08),(4.70,2.92),(4.78,2.83),(2.14,2.81),(2.33,2.84),(2.56,2.76),(2.83,2.91),(3.11,2.90),(3.18,2.90),(3.34,2.90),(3.39,2.83),(4.01,2.83),(4.12,2.83),(4.45,2.79),(4.39,2.71),(4.52,2.69),(4.62,2.61),(4.62,2.55),(4.49,2.50),(4.48,2.43),(4.42,2.57),(4.30,2.59),(4.21,2.53),(4.12,2.42),(4.32,2.41),(4.38,2.34),(4.28,2.29),(4.41,2.27),(4.21,2.21),(4.14,2.22),(4.04,2.18),(4.10,2.12),(3.98,2.24),(3.96,2.37),(4.04,2.46),(3.96,2.58),(3.87,2.53),(3.85,2.46),(3.92,2.39),(3.89,2.23),(3.88,2.06),(3.86,1.95),(3.73,2.07),(3.64,1.93),(3.62,1.76),(3.56,1.74),(3.51,1.72),(3.30,1.07),
(3.02,2.74),(3.06,2.67),(3.13,2.65),(3.20,2.63),(3.27,2.74),(3.34,2.72),(3.41,2.74),(3.48,2.79),(3.55,2.81),(3.62,2.77),(3.69,2.79),(3.76,2.81),(3.82,2.74),(3.89,2.77),(3.04,2.56),(3.13,2.46),(3.18,2.39),(3.11,2.35),(3.20,2.28),(3.27,2.39),(3.34,2.35),(3.41,2.28),(3.48,2.42),(3.55,2.37),(3.62,2.44),(3.69,2.32),(3.76,2.30),(3.34,2.16),(3.43,2.21),(3.50,2.16),(3.57,2.25),(3.64,2.14),(3.25,2.21),(3.16,2.16),(3.06,2.15),(2.97,2.15),(2.88,2.14),(2.79,2.11),(3.23,2.04),(3.13,2.02),(3.32,2.09),(3.41,2.04),(3.50,2.04),
(2.51,1.79),(2.58,1.88),(2.65,1.97),(2.72,1.90),(2.79,1.83),(2.70,1.79),(2.60,1.72),(2.70,1.69),(2.79,1.72),(2.86,1.79),(2.93,1.88),(3.02,1.86),(3.09,1.79),(3.16,1.88),(3.23,1.83),(3.29,1.86),(3.36,1.88),(3.41,1.86),(2.88,1.65),(2.97,1.67),(3.04,1.69),(3.13,1.72),(2.74,1.60),(2.65,1.55),(2.58,1.60),(2.51,1.60),(2.56,1.51),(2.65,1.48),(2.79,1.50),(2.86,1.44),(3.00,1.50),(3.06,1.55),(3.16,1.55),(3.24,1.53),(3.33,1.51),(3.32,1.42),(2.82,1.60),(2.93,1.60),(3.18,1.65),(3.34,1.70),(2.83,1.93),(2.79,2.02),(2.97,1.93),(3.06,2.00),(3.16,1.95),(2.88,2.00),(2.40,2.07),(2.46,2.11),(2.56,2.02),(2.37,2.00),(2.42,1.93),(2.33,1.88),(2.24,1.83),(2.10,1.90),(2.17,1.86),(2.28,1.74),(2.24,1.65),(2.35,1.72),(1.96,1.76),(2.05,1.79),(2.06,1.66),(2.14,1.59),(1.89,1.53),(1.91,1.37),(2.05,1.51),(2.14,1.46),(2.21,1.53),(2.28,1.38),(2.35,1.37),(2.46,1.37),(2.36,1.23),(2.13,1.24),(2.09,1.22),(2.60,1.19),(2.80,1.20),(2.80,1.17),(2.55,1.07),
(1.43,1.50),(1.67,1.59),(1.41,1.32),(1.50,1.26),(1.64,1.26),(1.58,1.18),(1.51,1.13),(1.73,1.15),(1.80,1.14),(1.87,1.22),(1.94,1.20),(1.90,1.12),(1.38,1.07),(1.26,1.03),(1.31,0.99),(1.14,0.93),(1.35,0.92),(1.44,0.96),(1.50,0.98),(1.59,1.00),(1.58,0.91),(1.73,0.99),(1.81,1.00),(1.89,1.06),(1.95,0.97),(2.00,0.94),(2.18,0.91),(2.17,0.82),(2.31,0.75),(1.49,0.86),(1.44,0.77),(1.75,0.89),(1.76,0.82),(1.63,0.72),(1.65,0.67),(1.80,0.63),(1.91,0.56),(1.70,0.51),(1.69,0.47),(1.41,0.38),(1.31,0.74),(1.27,0.67),(1.21,0.64),(1.18,0.61),(1.28,0.59),(1.23,0.47),(1.25,0.27),(0.95,0.82),(0.92,0.70),(0.65,0.78),(1.01,0.54),(0.69,0.54),(0.70,0.42),(0.76,0.40),(0.67,0.34),(0.73,0.30),(0.90,0.38),(1.00,0.30),(1.06,0.30),(0.45,0.35),(0.30,0.18),(0.41,0.14),(0.40,0.11),(0.62,0.09),(0.71,0.13),(0.75,0.15),(0.91,0.18),(0.94,0.19),(1.03,0.19),(0.40,0.02),(0.20,0.13),(0.17,0.10),(0.24,0.07),(0.14,0.05),(0.11,0.02),(0.23,0.01),
(1.89,2.47),(1.93,2.47),(1.98,2.49),(2.04,2.39),(1.88,2.31),(1.97,2.27),(1.73,2.19),(1.91,2.17),(1.96,2.11),(2.01,2.00),(2.10,2.02),(2.17,2.24),(2.22,2.34),(2.14,2.44),(2.20,2.57),(2.36,2.59),(2.41,2.67),(2.46,2.70),(2.53,2.63),(2.49,2.49),(2.48,2.40),(2.45,2.29),(2.49,2.26),(2.27,2.28),(2.27,2.14),(2.27,2.08),(2.63,2.25),(2.70,2.25),(2.69,2.38),(2.84,2.45),(2.60,2.16),(2.88,2.32),(2.94,2.38),(3.03,2.52),(3.06,2.49),(2.86,2.68),(2.95,2.64),(2.79,2.80),(2.67,2.68),(2.70,2.81),
(2.62,1.78),(2.68,1.82),(2.75,1.76),(2.80,1.68),(2.84,1.85),(2.90,1.74),(2.95,1.80),(3.00,1.76),(3.06,1.82),(3.10,1.70),(3.20,1.76),(3.26,1.70),(3.14,1.64),(3.00,1.62),(2.92,1.70),(2.74,1.74),(3.08,2.30),(3.16,2.26),(3.22,2.42),(3.30,2.30),(3.38,2.40),(3.46,2.30),(3.52,2.28),(3.60,2.32),(3.66,2.38),(3.72,2.42),(3.80,2.30),(3.50,2.70),(3.58,2.72),(3.66,2.70),(3.74,2.66),(3.80,2.74),(3.84,2.62)]

era5l_2017 = [(0.02,0.30),(0.08,0.87),(0.17,1.17),(0.21,0.45),(0.22,0.87),(0.33,0.67),(0.35,0.76),(0.29,1.51),(0.50,1.45),(0.52,0.71),(0.65,1.06),(0.67,0.77),(0.70,0.53),(0.72,1.10),(0.73,1.39),(0.76,1.53),(0.86,1.04),(0.87,0.97),(0.90,0.85),(0.87,1.89),(0.87,2.20),(0.94,1.92),(0.95,2.46),(1.00,0.93),(1.01,0.50),(1.07,2.50),(1.06,3.48),(1.08,1.21),(1.10,0.65),(1.10,2.24),(1.12,2.30),(1.19,1.46),(1.19,2.00),(1.22,1.61),(1.22,3.80),(1.26,3.76),(1.29,1.14),(1.29,1.41),(1.31,1.65),(1.39,1.79),(1.40,0.93),(1.41,1.60),(1.42,1.78),(1.40,2.29),(1.41,2.12),(1.43,1.45),(1.43,2.11),(1.44,2.58),(1.45,1.65),(1.45,2.06),(1.45,1.95),(1.48,1.28),(1.50,2.09),(1.53,1.32),(1.53,1.97),(1.54,3.64),(1.55,1.90),(1.55,2.34),(1.55,2.23),(1.59,1.45),(1.60,3.27),(1.67,1.40),(1.67,1.80),(1.68,1.33),(1.69,2.91),(1.68,2.76),(1.70,2.88),(1.72,1.39),(1.76,2.00),(1.79,1.62),(1.80,1.67),(1.82,1.45),(1.83,2.45),(1.83,1.85),(1.87,2.11),(1.87,3.69),(1.89,2.68),(1.90,2.50),(1.92,1.23),(1.92,1.90),(1.93,2.38),(1.95,3.93),(1.96,1.74),(2.00,2.15),(2.03,3.70),(2.04,1.51),(2.04,2.43),(2.06,1.68),(2.08,1.95),(2.12,1.85),(2.12,2.00),(2.15,2.15),(2.17,3.94),(2.20,1.70),(2.22,2.46),(2.25,3.51),(2.26,2.89),(2.27,3.30),(2.28,2.48),(2.29,2.00),(2.30,3.73),(2.30,2.60),(2.32,3.21),(2.34,3.02),(2.35,2.40),(2.37,2.64),(2.40,2.00),(2.42,2.85),(2.43,3.23),(2.45,2.78),(2.45,3.65),(2.50,2.97),(2.52,2.65),(2.52,2.90),(2.55,2.60),(2.60,3.30),(2.60,2.92),(2.66,3.02),(2.67,2.92),(2.73,2.62),(2.73,3.38),(2.75,3.07),(2.77,2.85),(2.85,2.92),(2.87,2.68),(2.92,3.18),(2.98,3.08),(3.00,3.35),(3.04,3.52),(3.07,3.05),(3.12,3.20),(3.18,3.08),(3.25,3.25),(3.35,3.35),(3.38,3.40),(3.40,3.30),(3.40,3.22),(3.57,3.28),(3.67,3.72),(3.70,3.73),(3.67,3.34),(3.70,3.24),(3.79,3.96),(3.97,4.19),(3.85,3.38),(3.87,3.40),(3.95,3.30),(4.05,3.60),(4.08,3.65),(4.10,3.40),(4.15,3.55),(4.18,3.45),(4.18,3.30),(4.28,3.78),(4.30,4.27),(4.32,3.22),(4.44,3.70),(4.45,3.38),(4.52,3.82),(4.53,3.36),(4.60,3.65),(4.60,3.60),(4.67,3.52),(4.65,3.45),(4.82,3.42),(4.85,3.44),(4.92,3.39),(5.14,3.62),(5.16,3.50),(5.15,3.47),(5.28,3.55),(5.28,3.44),(5.58,3.40),(5.60,3.21),(5.66,3.03),(5.68,2.67),(5.74,4.12),(5.73,2.57),(6.02,3.42),(6.12,4.65),
(2.10,1.85),(2.15,1.75),(2.20,1.95),(2.25,1.85),(2.30,1.75),(2.32,1.88),(2.35,2.05),(2.38,1.80),(2.42,1.78),(2.45,2.00),(2.50,1.85),(2.52,1.70),(2.55,1.65),(2.58,1.95),(2.62,1.80),(2.65,2.05),(2.68,1.60),(2.70,1.58),(2.72,1.85),(2.75,1.95),(2.78,1.75),(2.80,1.65),(2.85,1.85),(2.88,2.05),(2.90,1.58),(2.92,1.80),(2.95,2.00),(2.97,1.75),(3.00,1.95),(3.02,2.10),(3.05,1.72),(3.08,1.90),(3.12,2.05),(3.15,1.75),(3.18,2.00),(3.20,1.90),(3.25,2.15),(3.28,1.95),(3.30,2.10),(3.33,1.88),(3.36,1.77),(3.38,2.00),(3.42,1.90),(3.45,2.05),(3.50,1.95),(3.55,2.15),(3.60,2.00),(3.65,2.10),(3.70,2.20),(3.75,1.98),(2.22,2.05),(2.40,2.08),(2.60,2.12),(2.80,2.05),(2.92,2.25),(3.00,2.42),(3.05,2.30),(3.10,2.55),(3.15,2.25),(3.22,2.38),(3.28,2.65),(3.32,2.30),(3.38,2.42),(3.42,2.60),(3.48,2.25),(3.52,2.45),(3.55,2.75),(3.58,2.20),(3.62,2.30),(3.65,2.48),(3.68,2.65),(3.72,2.28),(3.75,2.40),(3.78,2.55),(3.82,2.65),(3.85,2.22),(3.88,2.80),(3.92,2.02),(3.95,2.40),(3.98,2.55),(4.02,2.10),(4.05,2.45),(4.08,2.60),(4.10,2.35),(4.13,2.75),(4.18,2.15),(4.20,2.50),(4.22,2.65),(4.25,2.30),(4.28,2.20),(4.32,2.40),(4.35,2.17),(4.38,2.62),(4.42,2.30),(4.45,2.50),(4.50,2.22),(4.52,2.70),(4.55,2.40),(4.60,2.55),(4.64,2.20),(4.68,2.50),(4.72,2.70),(4.78,2.55),(4.80,2.38),(4.85,2.80),(4.90,2.60),(4.95,2.45),(4.97,2.31),(5.00,2.65),(5.05,2.52),(5.10,2.72),(5.14,2.50),(5.18,2.68),(5.25,2.75),(5.30,2.78),(5.35,2.80),(5.40,2.82),(3.20,2.80),(3.25,2.95),(3.30,3.10),(3.35,2.85),(3.40,3.00),(3.45,3.08),(3.50,2.85),(3.55,2.72),(3.60,3.12),(3.65,2.95),(3.70,3.05),(3.75,2.85),(3.80,3.10),(3.85,2.95),(3.90,3.20),(3.92,2.90),(3.95,3.05),(3.98,3.12),(4.02,2.95),(4.08,2.85),(4.12,3.10),(4.15,2.95),(4.20,2.80),(4.25,2.90),(4.30,3.00),(4.35,3.02),(4.40,2.80),(4.45,2.90),(4.50,3.15),(4.55,2.90),(4.60,3.02),(4.65,3.15),(4.70,3.10),(4.75,2.90),(4.80,3.20),(4.85,2.98),(4.90,2.80),(4.95,3.00),(5.00,3.05),(5.05,3.15),(5.10,3.15),(5.15,2.87),(5.22,3.20),(5.25,3.06),(5.35,3.14),(5.40,3.03),(2.45,2.30),(2.50,2.15),(2.60,2.35),(2.68,2.40),(2.75,2.30),(2.82,2.45),(2.90,2.55),(2.92,2.38),(2.60,1.85),(2.70,1.80),(2.80,1.90),(2.90,1.95),(3.00,1.85),(3.10,1.80),(3.20,2.05),(3.30,2.00),(3.40,2.10),
(2.35,1.90),(2.48,1.95),(2.55,1.88),(2.65,1.92),(2.75,1.85),(2.82,1.97),(2.95,1.90),(3.05,2.00),(3.12,1.93),(3.22,2.00),(3.35,1.95),(2.98,2.05),(2.85,2.00),(2.72,2.00),(3.08,2.30),(3.15,2.40),(3.25,2.50),(3.35,2.55),(3.45,2.40),(3.55,2.50),(3.65,2.30),(3.75,2.55),(3.88,2.40),(3.95,2.25),(4.05,2.30),(4.15,2.40),(4.30,2.55),(4.45,2.65),(4.55,2.60),(4.50,2.85),(4.42,2.75),(4.48,2.62),(4.58,2.72),
(3.05,2.20),(3.12,2.12),(3.20,2.25),(3.30,2.40),(3.40,2.25),(3.46,2.50),(3.60,2.62),(3.70,2.50),(3.80,2.40),(3.85,2.70),(3.95,2.75),(4.00,2.45),(4.10,2.55),(4.15,2.62),(4.25,2.45),(4.35,2.48),(4.40,2.55),(4.50,2.40),(4.48,2.72),(4.52,2.62),(4.62,2.75),(4.70,2.85),(4.80,2.70),(4.92,2.75),(5.00,2.80),(3.15,2.55),(3.20,2.65),(3.30,2.55),(3.45,2.70),(3.60,2.85),(3.80,2.80),(4.00,2.85),(4.18,2.85)]

era5l_2018 = [(0.02,0.02),(0.05,0.05),(0.08,0.02),(0.12,0.06),(0.15,0.02),(0.20,0.05),(0.25,0.03),(0.30,0.06),(0.35,0.02),(0.40,0.05),(0.45,0.03),(0.50,0.07),(0.55,0.03),(0.60,0.05),(0.65,0.02),(0.02,0.10),(0.06,0.12),(0.10,0.10),(0.15,0.13),(0.20,0.10),(0.25,0.12),(0.30,0.15),(0.35,0.10),(0.40,0.14),(0.45,0.10),(0.50,0.14),(0.55,0.11),(0.60,0.13),(0.02,0.18),(0.06,0.20),(0.10,0.22),(0.15,0.18),(0.20,0.20),(0.25,0.22),(0.30,0.24),(0.35,0.20),(0.40,0.18),(0.45,0.22),(0.50,0.20),(0.55,0.18),(0.60,0.22),(0.65,0.25),(0.70,0.16),(0.75,0.20),(0.78,0.28),(0.85,0.30),(0.90,0.25),(0.96,0.32),(1.00,0.25),(1.02,0.38),(1.08,0.28),(1.15,0.20),(1.20,0.15),(0.88,0.12),(0.95,0.07),(1.25,0.60),(1.22,0.45),(1.18,0.50),(0.02,0.30),(0.06,0.32),(0.10,0.28),(0.14,0.33),(0.20,0.30),(0.25,0.32),(0.30,0.30),(0.35,0.35),(0.40,0.32),(0.45,0.30),(0.50,0.35),(0.55,0.30),(0.60,0.32),(0.02,0.40),(0.05,0.38),(0.12,0.40),(0.20,0.42),(0.28,0.45),(0.36,0.42),(0.42,0.38),(0.50,0.42),(0.58,0.45),(0.65,0.40),(0.72,0.38),(0.78,0.42),(0.85,0.45),(0.90,0.48),(1.00,0.50),(1.05,0.52),(1.18,0.30),(1.20,0.32),(1.28,0.50),(1.34,0.62),(1.42,0.63),(1.45,0.65),(1.50,0.70),(0.10,0.52),(0.16,0.58),(0.22,0.52),(0.30,0.55),(0.35,0.52),(0.42,0.62),(0.48,0.55),(0.52,0.65),(0.58,0.52),(0.65,0.55),(0.72,0.60),(0.80,0.60),(0.88,0.55),(0.95,0.62),(1.05,0.68),(1.10,0.70),(1.18,0.55),(1.25,0.45),(0.10,0.72),(0.20,0.70),(0.25,0.65),(0.35,0.72),(0.42,0.70),(0.48,0.75),(0.58,0.68),(0.68,0.72),(0.75,0.70),(0.82,0.75),(0.90,0.72),(1.00,0.70),(1.08,0.80),(0.15,0.85),(0.28,0.90),(0.32,0.92),(0.40,0.80),(0.48,0.88),(0.55,0.92),(0.62,0.85),(0.70,0.88),(0.78,0.82),(0.85,0.92),(0.98,0.92),(1.10,0.95),(1.20,0.90),(1.25,0.88),(1.27,0.92),(1.30,0.88),(0.07,1.05),(0.38,1.03),(0.50,1.00),(0.60,1.05),(0.75,1.00),(0.82,1.05),(0.90,0.98),(1.02,1.02),(1.05,1.00),(1.08,1.03),(1.15,1.02),(0.65,1.10),(0.55,1.18),(0.50,1.10),(0.42,1.15),(0.25,1.05),(0.60,1.18),(0.75,1.18),(0.73,1.38),(0.77,1.20),(0.82,1.22),(0.87,1.12),(0.30,1.22),(0.40,1.25),(0.38,1.24),(0.45,1.25),(0.55,1.25),(0.65,1.25),(0.70,1.28),(0.42,1.35),(0.23,1.30),(0.50,1.40),(0.33,1.38),(0.95,1.00),(0.97,1.10),(1.25,1.48),(0.75,1.55),(1.97,1.46),(2.75,2.00),(0.72,1.37),(0.60,1.42),(1.05,1.08),
(0.04,0.08),(0.08,0.07),(0.12,0.12),(0.17,0.08),(0.22,0.08),(0.27,0.07),(0.32,0.10),(0.37,0.06),(0.42,0.09),(0.47,0.06),(0.52,0.10),(0.57,0.07),(0.62,0.09),(0.04,0.15),(0.08,0.16),(0.12,0.18),(0.17,0.15),(0.22,0.16),(0.27,0.17),(0.32,0.18),(0.37,0.15),(0.42,0.16),(0.47,0.17),(0.52,0.16),(0.57,0.15),(0.62,0.17),(0.04,0.24),(0.08,0.24),(0.12,0.25),(0.17,0.24),(0.22,0.25),(0.27,0.27),(0.32,0.27),(0.37,0.25),(0.42,0.25),(0.47,0.26),(0.52,0.25),(0.57,0.24),(0.62,0.27),(0.04,0.35),(0.08,0.35),(0.16,0.36),(0.23,0.36),(0.33,0.38),(0.47,0.37),(0.68,0.10),(0.72,0.06),(0.76,0.10),(0.80,0.14),(0.68,0.30),(0.74,0.30),(0.03,0.48),(0.07,0.45)]

era5l_2019 = [(0.01,0.12),(0.06,0.55),(0.12,0.54),(0.14,0.40),(0.16,0.27),(0.19,0.61),(0.20,0.81),(0.24,0.49),(0.24,1.07),(0.30,1.09),(0.39,0.43),(0.40,0.79),(0.41,1.18),(0.44,1.49),(0.62,0.64),(0.69,0.69),(0.72,0.67),(0.73,0.92),(0.75,0.24),(0.76,1.03),(0.65,1.72),(0.67,1.77),(0.69,1.83),(0.90,1.59),(0.96,1.49),(0.90,0.73),(1.01,0.63),(0.93,1.04),(1.00,1.24),(1.04,1.13),(1.06,1.09),(1.14,1.07),(0.93,2.01),(0.95,1.97),(1.18,1.82),(1.24,1.86),(1.22,3.17),(1.26,3.12),(1.30,3.08),(1.26,2.92),(1.26,1.66),(1.28,1.62),(1.34,1.68),(1.38,1.77),(1.35,1.53),(1.23,1.11),(1.25,0.98),(1.28,0.86),(1.31,1.24),(1.41,1.39),(1.44,1.52),(1.48,1.62),(1.49,1.45),(1.44,1.21),(1.50,1.12),(1.41,0.50),(1.58,0.98),(1.64,0.97),(1.65,0.76),(1.64,1.27),(1.70,1.18),(1.69,1.35),(1.68,1.51),(1.58,1.64),(1.43,2.34),(1.49,2.10),(1.60,2.08),(1.57,2.00),(1.73,2.16),(1.64,3.27),(1.70,3.21),(1.73,3.10),(1.83,3.01),(1.80,2.41),(1.76,0.97),(1.91,0.97),(1.92,1.17),(2.17,1.15),(1.89,2.08),(1.88,1.97),(1.94,1.90),(1.95,2.29),(2.00,2.46),(2.06,2.46),(2.01,2.34),(2.07,2.33),(1.94,2.77),(2.01,2.73),(2.05,2.95),(2.06,3.05),(2.22,3.05),(2.33,2.96),(2.24,2.84),(2.49,2.81),(2.56,2.81),(2.59,2.73),(2.69,3.28),(2.69,2.86),(2.87,3.52),(2.89,2.88),(2.28,2.63),(2.31,2.63),(2.43,2.57),(2.46,2.59),(2.32,2.46),(2.23,2.41),(2.30,2.33),(2.35,2.36),(2.21,2.15),(2.34,2.18),(2.43,2.33),(2.60,2.50),(2.65,2.59),(2.74,2.75),
(3.33,3.14),(3.23,3.04),(3.36,2.99),(3.46,3.02),(3.54,3.17),(3.62,3.14),(3.69,3.51),(3.76,3.05),(3.52,2.98),(3.64,3.00),(3.70,2.90),(3.88,3.24),(4.07,3.53),(4.42,3.90),(3.92,2.92),(3.95,2.92),(3.89,2.81),(3.97,2.84),(4.08,2.85),(4.09,2.79),(3.77,2.80),(3.35,2.84),(3.41,2.80),(4.56,2.79),(4.74,2.74),(4.25,2.62),(4.35,2.63),(4.45,2.65),(4.28,2.57),(4.32,2.56),(4.54,2.54),(4.52,2.50),(4.48,2.45),(4.73,2.43),(4.30,2.40),(4.38,2.33),(4.45,2.34),(4.70,2.29),(4.63,2.23),(4.78,2.19),(4.57,2.16),(4.52,2.16),(4.45,2.14),(4.39,2.09),(4.62,2.04),(4.62,2.01),(4.48,1.93),(4.50,1.88),(4.38,1.83),(4.42,1.76),(4.38,1.74),(4.28,1.77),(4.22,1.70),(4.10,1.66),(4.23,1.91),(4.32,1.90),(4.30,1.98),(4.16,1.84),(4.13,1.88),(3.94,1.73),(3.95,1.83),(3.88,1.80),(3.80,1.74),(3.89,1.96),(3.99,1.91),(4.04,2.05),(3.99,2.03),(4.12,2.10),(4.19,2.08),(4.26,2.17),(4.16,2.21),(4.13,2.26),(4.10,2.36),(4.19,2.33),(4.12,2.49),(4.05,2.59),(4.01,2.47),(3.96,2.33),(3.89,2.26),(3.80,2.36),(3.85,2.52),(3.76,2.54),(3.66,2.33),(3.59,2.26),(3.52,2.36),(3.62,2.45),(3.48,2.54),(3.43,2.40),(3.36,2.45),(3.27,2.54),(3.20,2.66),(3.02,2.71),(3.11,2.47),(3.04,2.59),(2.83,2.61),(2.79,2.50),(2.88,2.40),(2.97,2.45),(3.06,2.31),(3.16,2.36),(3.25,2.26),(3.34,2.31),(3.43,2.19),(3.52,2.17),(3.62,2.12),(3.71,2.22),(3.78,2.10),(3.66,2.03),(3.57,2.01),(3.48,2.08),(3.39,1.98),(3.29,2.08),(3.20,2.15),(3.11,2.12),(3.02,2.17),(2.93,2.22),(2.83,2.31),(2.74,2.26),(2.65,2.33),(2.56,2.29),(2.46,2.26),(2.70,2.17),(2.60,2.10),(2.79,2.08),(2.88,2.05),(2.97,2.01),(3.06,1.94),(3.16,1.96),(3.25,1.89),(3.34,1.87),(3.43,1.82),(3.52,1.77),(3.59,1.77),(3.66,1.84),(3.75,1.91),(2.46,1.98),(2.56,1.96),(2.65,1.91),(2.74,1.87),(2.83,1.80),(2.93,1.77),(3.02,1.75),(3.11,1.77),(3.20,1.70),(3.29,1.63),(3.39,1.66),(3.39,1.56),(2.14,1.98),(2.23,1.96),(2.12,1.84),(2.23,1.80),(2.33,1.94),(2.35,1.70),(2.42,1.66),(2.51,1.66),(2.60,1.70),(2.69,1.63),(2.79,1.68),(2.88,1.73),(2.97,1.66),(3.06,1.63),(3.18,1.61),(3.25,1.51),(3.32,1.45),(3.35,1.44),(3.52,1.41),(3.55,1.38),(3.57,1.49),(3.62,1.56),(3.64,1.51),
(1.82,1.68),(1.91,1.61),(2.00,1.66),(2.10,1.68),(1.87,1.54),(1.96,1.52),(2.07,1.54),(2.19,1.61),(2.28,1.66),(2.37,1.59),(2.46,1.54),(2.56,1.59),(2.65,1.66),(2.74,1.56),(2.83,1.54),(2.93,1.59),(3.02,1.52),(1.94,1.42),(1.96,1.34),(2.05,1.42),(2.14,1.32),(2.19,1.40),(2.26,1.40),(2.37,1.40),(2.51,1.39),(2.65,1.33),(2.74,1.40),(2.83,1.38),(2.97,1.37),(3.02,1.28),(3.04,1.24),(3.06,1.18),(3.17,1.22),(3.24,1.25),(3.33,1.20),(3.11,1.35),(3.16,1.45),
(2.80,2.15),(2.90,2.05),(3.00,2.30),(3.10,2.28),(3.20,2.40),(3.30,2.25),(3.40,2.30),(3.50,2.45),(3.60,2.35),(3.70,2.42),(3.75,2.28),(3.85,2.18),(3.55,2.05),(3.45,1.95),(3.35,2.02),(3.15,2.05),(3.05,2.05),(2.90,1.90),(2.70,1.75),(2.60,1.80),(2.50,1.78),(2.55,1.70),(2.75,1.68),(2.90,1.65),(3.10,1.60),(3.22,1.75),
(2.86,2.50),(2.92,2.60),(3.00,2.55),(3.08,2.62),(3.14,2.56),(3.25,2.40),(3.32,2.45),(3.40,2.62),(3.46,2.30),(3.55,2.55),(3.66,2.48),(3.72,2.58),(3.82,2.45),(3.90,2.60),(3.00,1.85),(2.86,1.60),(2.95,1.50),(3.08,1.70),(3.15,1.85),(3.28,1.78),(3.36,1.72),(3.46,1.65),(2.70,1.50),(2.60,1.60),(2.50,1.58),(2.42,1.52),(2.35,1.50),(2.65,2.05),(2.75,2.00),(2.84,1.95),(2.95,1.88)]

panels = [[s1_2017, s1_2018, s1_2019],
          [era5_2017, era5_2018, era5_2019],
          [era5l_2017, era5l_2018, era5l_2019]]
colors = ['#808080', '#3182bd', '#e6550d']

stats = [['Bias = -0.43\n$\\sigma$ = 0.86\nRMSE = 0.96\nR² = 0.37\nN = 827',
          'Bias = -0.05\n$\\sigma$ = 0.21\nRMSE = 0.21\nR² = 0.53\nN = 531',
          'Bias = -1.24\n$\\sigma$ = 0.61\nRMSE = 1.38\nR² = 0.25\nN = 596'],
         ['Bias=-0.49\n$\\sigma$ = 0.9\nRMSE = 1.02\nR² = 0.44\nN = 854',
          'Bias=0.16\n$\\sigma$ = 0.41\nRMSE = 0.44\nR² = 0.51\nN = 854',
          'Bias=-0.65\n$\\sigma$ = 0.81\nRMSE = 1.04\nR² = 0.31\nN = 854'],
         ['Bias=-0.83\n$\\sigma$ = 0.86\nRMSE = 1.2\nR² = 0.36\nN = 854',
          'Bias=-0.09\n$\\sigma$ = 0.26\nRMSE = 0.27\nR² = 0.47\nN = 854',
          'Bias=-0.92\n$\\sigma$ = 0.73\nRMSE = 1.17\nR² = 0.27\nN = 854']]

W, H = 2067, 2066
fig = plt.figure(figsize=(W / 100, H / 100), dpi=100)

lefts = [67, 741, 1415]
tops = [29, 695, 1360]
size = 648
ylab_size = [26, 25, 21]
ylab_pad = [6, 7, 5]

for i in range(3):
    for j in range(3):
        ax = fig.add_axes([lefts[j] / W, 1 - (tops[i] + 632) / H, size / W, 632 / H])
        x, y = zip(*panels[i][j])
        ax.scatter(x, y, s=44, color=colors[i], linewidths=0)
        ax.plot([0, 7], [0, 7], color='k', lw=2.2)
        ax.set_xlim(0, 7)
        ax.set_ylim(0, 7)
        ax.set_xticks(ticks)
        ax.set_yticks(ticks)
        ax.tick_params(labelsize=15, width=1.2, length=5)
        for s in ax.spines.values():
            s.set_linewidth(1.3)
        if j > 0:
            ax.set_yticklabels([])
        else:
            ax.set_ylabel(row_labels[i], fontsize=ylab_size[i], labelpad=ylab_pad[i])
        if i < 2:
            ax.set_xticklabels([])
        if i == 0:
            ax.set_title(dates[j], fontsize=16.5, pad=-0.5)
        # the stats box sits lower right only in the middle-left panel
        tx, ty = (4.0, 2.19) if (i == 1 and j == 0) else (0.5, 6.87)
        ax.text(tx, ty, stats[i][j], fontsize=20.7, va='top', ha='left', linespacing=1.13)

fig.text(1034 / W, 1 - 2050 / H, 'ASO HS (m)', fontsize=24.5, ha='center', va='center')

fig.savefig('out.png', dpi=100)
